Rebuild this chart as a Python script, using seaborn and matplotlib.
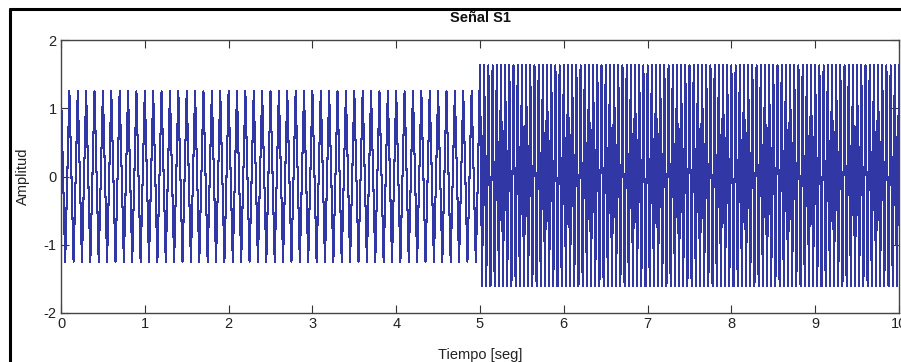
import numpy as np
import pandas as pd
import seaborn as sns
import matplotlib.pyplot as plt
from matplotlib.lines import Line2D

# ---- data ----
sample_step = 0.025                    # s between samples
segment_a_end = 5.0                    # first part: 0 .. 5 s
segment_b_end = 10.0                   # second part: 5 .. 10 s
# one repeating cycle of sample values in each part (levels)
cycle_a = [1.25, 0.0, -1.25, 0.0]
cycle_b = [1.63, -1.61]
x_ticks = [0, 1, 2, 3, 4, 5, 6, 7, 8, 9, 10]
y_ticks = [-2, -1, 0, 1, 2]
title_text = "Señal S1"
x_label = "Tiempo [seg]"
y_label = "Amplitud"

# ---- build the sampled series from the cycles ----
n_a = int(round(segment_a_end / sample_step))
n_b = int(round((segment_b_end - segment_a_end) / sample_step)) + 1
vals = [cycle_a[i % len(cycle_a)] for i in range(n_a)] + \
       [cycle_b[i % len(cycle_b)] for i in range(n_b)]
t = np.arange(len(vals)) * sample_step
df = pd.DataFrame({"t": t, "v": vals})

sns.set_theme(style="white")
plt.rcParams["font.family"] = ["Liberation Sans Narrow", "Liberation Sans", "DejaVu Sans"]

W, H = 901, 362
fig = plt.figure(figsize=(W / 100, H / 100), dpi=100)
fig.patch.set_facecolor("white")
ax = fig.add_axes([61 / W, 1 - 313 / H, (899 - 61) / W, (313 - 40) / H])
ax.set_facecolor("white")

sns.lineplot(data=df, x="t", y="v", ax=ax, color="#3237a6", linewidth=0.75,
             estimator=None, sort=False, antialiased=False)

ax.set_xlim(0, 10)
ax.set_ylim(-2, 2)
ax.set_xticks(x_ticks)
ax.set_yticks(y_ticks)
ax.set_xticklabels([str(v) for v in x_ticks])
ax.set_yticklabels([str(v) for v in y_ticks])
ax.tick_params(direction="in", length=6, width=0.8, color="#333333",
               labelsize=10.5, labelcolor="#222222", top=True, right=True,
               bottom=True, left=True, pad=3)
for s in ax.spines.values():
    s.set_visible(True)
    s.set_color("#444444")
    s.set_linewidth(1.0)

ax.set_title(title_text, fontsize=10.5, fontweight="bold", color="#111111", pad=13)
ax.set_xlabel(x_label, fontsize=10.5, color="#222222", labelpad=12)
ax.set_ylabel(y_label, fontsize=10.5, color="#222222", labelpad=10)

# outer black window frame (left and top edges)
fig.add_artist(Line2D([10 / W, 10 / W], [0, 1 - 9 / H], transform=fig.transFigure,
                      color="black", linewidth=2.2))
fig.add_artist(Line2D([10 / W, 1], [1 - 9 / H, 1 - 9 / H], transform=fig.transFigure,
                      color="black", linewidth=2.2))

fig.savefig("out.png", dpi=100, facecolor="white")
